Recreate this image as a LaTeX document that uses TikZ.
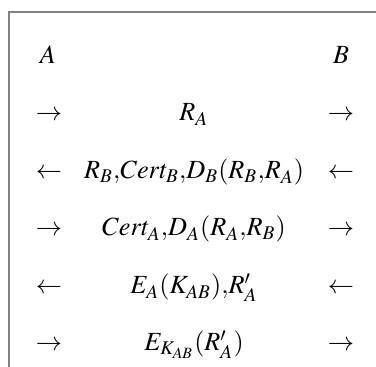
\documentclass[tikz,border=0pt]{standalone}
\usepackage{amsmath,amssymb}
\usepackage{mathptmx}
\usepackage{tikz}

\begin{document}
\begin{tikzpicture}[x=0.42pt, y=-0.42pt]
    \useasboundingbox (0,0) rectangle (376,367);
    \tikzset{msg/.style={anchor=base, inner sep=0pt, font=\fontsize{11}{14}\selectfont}}
    \coordinate (tl) at (9,12);
    \coordinate (tr) at (376,12);
    \coordinate (bl) at (9,367);
    \draw[gray, line width=0.45pt] (tr) -- (tl) -- (bl);
    \node[msg] (A) at (48,64) {$A$};
    \node[msg] (B) at (341,64) {$B$};
    \node[msg] (l1) at (49,121) {$\rightarrow$};
    \node[msg] (m1) at (194,121) {$R_A$};
    \node[msg] (r1) at (341,121) {$\rightarrow$};
    \node[msg] (l2) at (49,179) {$\leftarrow$};
    \node[msg] (m2) at (194,179) {$R_B{,}Cert_B{,}D_B(R_B{,}R_A)$};
    \node[msg] (r2) at (341,179) {$\leftarrow$};
    \node[msg] (l3) at (49,236) {$\rightarrow$};
    \node[msg] (m3) at (194,236) {$Cert_A{,}D_A(R_A{,}R_B)$};
    \node[msg] (r3) at (341,236) {$\rightarrow$};
    \node[msg] (l4) at (49,294) {$\leftarrow$};
    \node[msg] (m4) at (194,294) {$E_A(K_{AB}){,}R'_A$};
    \node[msg] (r4) at (341,294) {$\leftarrow$};
    \node[msg] (l5) at (49,351) {$\rightarrow$};
    \node[msg] (m5) at (194,351) {$E_{K_{AB}}(R'_A)$};
    \node[msg] (r5) at (341,351) {$\rightarrow$};
\end{tikzpicture}
\end{document}
